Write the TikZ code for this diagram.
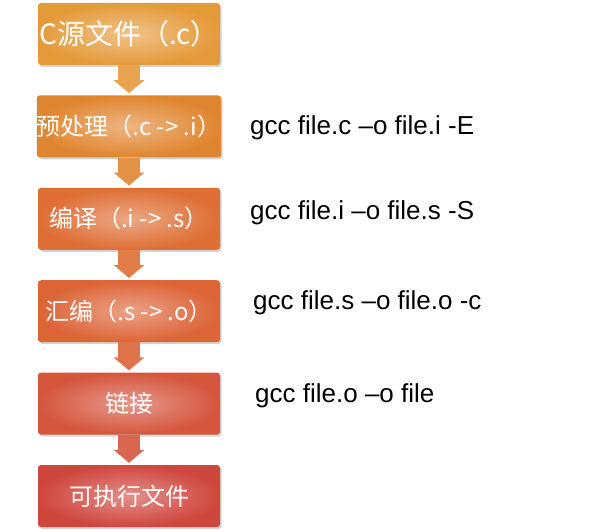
\documentclass[tikz,border=0pt]{standalone}
\usepackage{fontspec}
\setmainfont{Liberation Sans}
\newfontfamily\cjk{Noto Sans CJK SC}
\usetikzlibrary{positioning,shadows,arrows.meta}

\definecolor{stepA}{HTML}{E59A3A}
\definecolor{stepB}{HTML}{E0852F}
\definecolor{stepC}{HTML}{DE6E34}
\definecolor{stepD}{HTML}{DC6437}
\definecolor{stepE}{HTML}{D5553D}
\definecolor{stepF}{HTML}{CF463D}

\tikzset{
  stagebox/.style={rectangle, rounded corners=3pt, minimum width=182pt,
    minimum height=62pt, text=white, inner sep=0pt,
    shading=radial, outer color=#1, inner color=#1!60!white,
    drop shadow={opacity=0.35, shadow xshift=1.5pt, shadow yshift=-2pt},
    font=\cjk\fontsize{24}{28}\selectfont},
  flowarrow/.style={draw=#1, line width=22pt,
    -{Triangle[width=30pt,length=13pt]}, shorten >=2pt},
  cmd/.style={anchor=west, inner sep=0pt, font=\fontsize{26}{30}\selectfont}
}

\begin{document}
\begin{tikzpicture}[x=1pt,y=1pt,node distance=30pt]
 \useasboundingbox (0,0) rectangle (597,-532);

 \node[stagebox=stepA, font=\cjk\fontsize{28}{32}\selectfont] (src) at (129,-34) {C源文件（.c）};
 \node[stagebox=stepB, below=of src] (pre) {预处理（.c -> .i）};
 \node[stagebox=stepC, below=of pre] (comp) {编译（.i -> .s）};
 \node[stagebox=stepD, below=of comp] (asm) {汇编（.s -> .o）};
 \node[stagebox=stepE, below=of asm] (link) {链接};
 \node[stagebox=stepF, below=of link] (exe) {可执行文件};

 % block arrows between the stages
 \draw[flowarrow=stepA!90!white] (src.south) -- (pre.north);
 \draw[flowarrow=stepB!90!white] (pre.south) -- (comp.north);
 \draw[flowarrow=stepC!90!white] (comp.south) -- (asm.north);
 \draw[flowarrow=stepD!90!white] (asm.south) -- (link.north);
 \draw[flowarrow=stepE!90!white] (link.south) -- (exe.north);

 % commands
 \node[cmd] (cmdpre) at (250,-128) {gcc file.c –o file.i -E};
 \node[cmd] (cmdcomp) at (250,-213) {gcc file.i –o file.s -S};
 \node[cmd] (cmdasm) at (253,-303) {gcc file.s –o file.o -c};
 \node[cmd] (cmdlink) at (255,-396) {gcc file.o –o file};

\end{tikzpicture}
\end{document}
